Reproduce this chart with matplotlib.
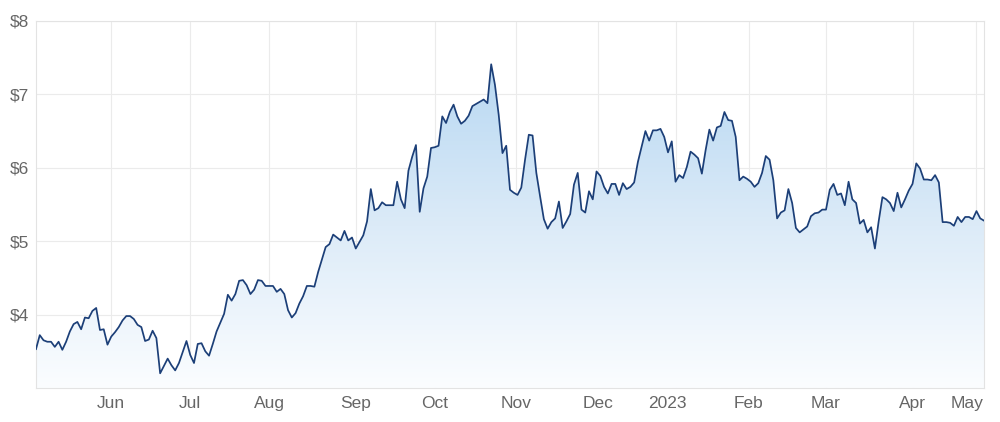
import matplotlib
matplotlib.use("Agg")
import matplotlib.pyplot as plt
import matplotlib.transforms as mtransforms
import numpy as np
from matplotlib.colors import LinearSegmentedColormap
from matplotlib.patches import Polygon

# daily closing prices, May 2022 - May 2023
prices = [
    3.53, 3.72, 3.65, 3.63, 3.63, 3.56, 3.63, 3.52, 3.63, 3.77,
    3.87, 3.90, 3.80, 3.96, 3.95, 4.05, 4.09, 3.79, 3.80, 3.59,
    3.70, 3.76, 3.83, 3.92, 3.98, 3.98, 3.94, 3.86, 3.83, 3.64,
    3.66, 3.78, 3.68, 3.20, 3.30, 3.40, 3.31, 3.24, 3.34, 3.49,
    3.64, 3.45, 3.34, 3.60, 3.61, 3.50, 3.44, 3.60, 3.77, 3.89,
    4.01, 4.27, 4.19, 4.28, 4.46, 4.47, 4.40, 4.28, 4.34, 4.47,
    4.46, 4.39, 4.39, 4.39, 4.31, 4.35, 4.28, 4.06, 3.96, 4.02,
    4.15, 4.25, 4.39, 4.39, 4.38, 4.58, 4.75, 4.92, 4.96, 5.09,
    5.05, 5.01, 5.14, 5.01, 5.05, 4.90, 4.99, 5.08, 5.27, 5.71,
    5.42, 5.45, 5.53, 5.49, 5.49, 5.49, 5.81, 5.57, 5.45, 5.96,
    6.15, 6.31, 5.40, 5.72, 5.88, 6.27, 6.28, 6.30, 6.70, 6.61,
    6.76, 6.86, 6.70, 6.60, 6.64, 6.71, 6.84, 6.87, 6.90, 6.93,
    6.88, 7.41, 7.13, 6.72, 6.20, 6.30, 5.70, 5.66, 5.63, 5.73,
    6.11, 6.45, 6.44, 5.93, 5.61, 5.30, 5.17, 5.26, 5.31, 5.54,
    5.18, 5.27, 5.37, 5.77, 5.93, 5.43, 5.39, 5.68, 5.57, 5.95,
    5.89, 5.74, 5.65, 5.78, 5.78, 5.63, 5.79, 5.71, 5.74, 5.80,
    6.08, 6.29, 6.50, 6.37, 6.51, 6.51, 6.53, 6.42, 6.21, 6.36,
    5.81, 5.90, 5.86, 6.01, 6.22, 6.18, 6.13, 5.92, 6.24, 6.52,
    6.37, 6.55, 6.57, 6.76, 6.65, 6.64, 6.42, 5.83, 5.88, 5.85,
    5.81, 5.74, 5.79, 5.93, 6.16, 6.11, 5.83, 5.31, 5.39, 5.42,
    5.71, 5.52, 5.18, 5.12, 5.16, 5.20, 5.34, 5.38, 5.39, 5.43,
    5.43, 5.70, 5.78, 5.63, 5.65, 5.49, 5.81, 5.57, 5.52, 5.24,
    5.29, 5.12, 5.19, 4.90, 5.27, 5.60, 5.57, 5.52, 5.41, 5.66,
    5.46, 5.57, 5.69, 5.78, 6.06, 5.99, 5.84, 5.84, 5.83, 5.90,
    5.80, 5.26, 5.26, 5.25, 5.21, 5.33, 5.26, 5.33, 5.33, 5.30,
    5.41, 5.31, 5.28,
]

month_labels = ["Jun", "Jul", "Aug", "Sep", "Oct", "Nov", "Dec",
                "2023", "Feb", "Mar", "Apr", "May"]
# position (trading-day index) of the first session of each month
month_idx = [20, 41, 62, 85, 106, 127.5, 149.5, 170, 189.5, 210, 233, 250]

y_ticks = [3, 4, 5, 6, 7, 8]
y_labels = ["", "$4", "$5", "$6", "$7", "$8"]

LINE = "#1c3f78"
GRID = "#ebebeb"
TEXT = "#666666"

plt.rcParams["font.family"] = ["Liberation Sans", "DejaVu Sans"]

x = np.arange(len(prices))
y = np.array(prices)

fig = plt.figure(figsize=(10, 4.22), dpi=100)
ax = fig.add_axes([0.036, 0.0806, 0.948, 0.8697])
ax.set_xlim(0, len(prices) - 1)
ax.set_ylim(3, 8)

# vertical gradient fill under the line
cmap = LinearSegmentedColormap.from_list("fill", ["#fbfdff", "#dcebf8", "#b8d8f2"])
grad = np.linspace(0, 1, 256).reshape(-1, 1)
im = ax.imshow(grad, cmap=cmap, origin="lower", aspect="auto",
               extent=[0, len(prices) - 1, 3, y.max()], zorder=1)
verts = np.vstack([[x[0], 3], np.column_stack([x, y]), [x[-1], 3]])
clip = Polygon(verts, closed=True, facecolor="none", edgecolor="none")
ax.add_patch(clip)
im.set_clip_path(clip)

ax.plot(x, y, color=LINE, linewidth=1.25, zorder=3)

ax.set_xticks(month_idx)
ax.set_xticklabels(month_labels)
ax.set_yticks(y_ticks)
ax.set_yticklabels(y_labels)
ax.grid(True, color=GRID, linewidth=0.8, zorder=0)
ax.set_axisbelow(True)
ax.tick_params(axis="both", length=0, labelsize=12.5, labelcolor=TEXT)
ax.tick_params(axis="x", pad=6)
ax.tick_params(axis="y", pad=5)
for s in ax.spines.values():
    s.set_color("#e3e3e3")
    s.set_linewidth(0.8)

# the last labels sit a little left of their gridlines in the original
xt = ax.get_xticklabels()
for lbl, dx in [(xt[7], -8), (xt[-1], -9)]:
    lbl.set_transform(lbl.get_transform() +
                      mtransforms.ScaledTranslation(dx / 100, 0, fig.dpi_scale_trans))

fig.savefig("out.png", dpi=100)
